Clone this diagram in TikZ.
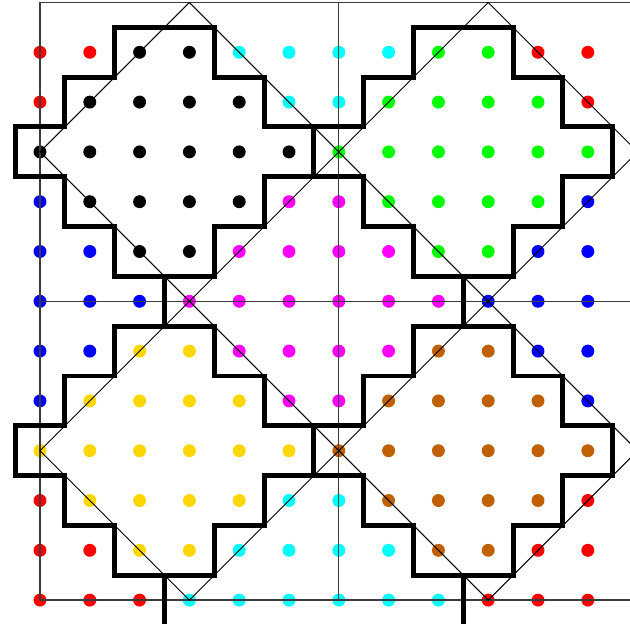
\documentclass[tikz,border=0pt]{standalone}
\definecolor{cR}{RGB}{255,0,0}
\definecolor{cK}{RGB}{0,0,0}
\definecolor{cC}{RGB}{0,255,255}
\definecolor{cG}{RGB}{0,255,0}
\definecolor{cB}{RGB}{0,0,255}
\definecolor{cM}{RGB}{255,0,255}
\definecolor{cY}{RGB}{255,215,0}
\definecolor{cO}{RGB}{192,96,0}
\definecolor{framegray}{RGB}{60,60,60}
\tikzset{
  framestyle/.style={draw=framegray,line width=0.75pt},
  diagstyle/.style={draw=black,line width=0.55pt},
  wallstyle/.style={draw=black,line width=0.1cm,line join=miter},
}
\begin{document}
\begin{tikzpicture}[x=1cm,y=1cm]
\useasboundingbox (-0.803,-0.54) rectangle (11.847,12.05);
% dots
\foreach \row [count=\r] in {
 {R,R,K,K,C,C,C,C,G,G,R,R},
 {R,K,K,K,K,C,C,G,G,G,G,R},
 {K,K,K,K,K,K,G,G,G,G,G,G},
 {B,K,K,K,K,M,M,G,G,G,G,B},
 {B,B,K,K,M,M,M,M,G,G,B,B},
 {B,B,B,M,M,M,M,M,M,B,B,B},
 {B,B,Y,Y,M,M,M,M,O,O,B,B},
 {B,Y,Y,Y,Y,M,M,O,O,O,O,B},
 {Y,Y,Y,Y,Y,Y,O,O,O,O,O,O},
 {R,Y,Y,Y,Y,C,C,O,O,O,O,R},
 {R,R,Y,Y,C,C,C,C,O,O,R,R},
 {R,R,R,C,C,C,C,C,C,R,R,R}}{
  \foreach \c [count=\i] in \row {
    \fill[c\c] ({\i-1},{12-\r}) circle (0.13);
  }
}
% frame lines
\coordinate (f00) at (0,0);
\coordinate (f012) at (0,12);
\coordinate (f120) at (12,0);
\coordinate (f1212) at (12,12);
\coordinate (f60) at (6,0);
\coordinate (f612) at (6,12);
\coordinate (f06) at (0,6);
\coordinate (f126) at (12,6);
\draw[framestyle] (f00) -- (f012);
\draw[framestyle] (f60) -- (f612);
\draw[framestyle] (f00) -- (f120);
\draw[framestyle] (f06) -- (f126);
\draw[framestyle] (f012) -- (f1212);
% diamonds
\foreach \cx/\cy in {3/9,9/9,3/3,9/3}{
  \draw[diagstyle] (\cx,\cy+3) -- (\cx+3,\cy) -- (\cx,\cy-3) -- (\cx-3,\cy) -- cycle;
}
% staircase walls
\foreach \cx/\cy in {2.5/9,8.5/9,2.5/3,8.5/3}{
  \begin{scope}[shift={(\cx,\cy)}]
    \draw[wallstyle] (-1,2.5) -- (1,2.5) -- (1,1.5) -- (2,1.5) -- (2,0.5) -- (3,0.5)
      -- (3,-0.5) -- (2,-0.5) -- (2,-1.5) -- (1,-1.5) -- (1,-2.5) -- (-1,-2.5)
      -- (-1,-1.5) -- (-2,-1.5) -- (-2,-0.5) -- (-3,-0.5) -- (-3,0.5) -- (-2,0.5)
      -- (-2,1.5) -- (-1,1.5) -- cycle;
  \end{scope}
}
% connectors
\coordinate (a1) at (2.5,6.5);
\coordinate (a2) at (2.5,5.5);
\coordinate (b1) at (8.5,6.5);
\coordinate (b2) at (8.5,5.5);
\coordinate (c1) at (2.5,0.5);
\coordinate (c2) at (2.5,-0.47);
\coordinate (d1) at (8.5,0.5);
\coordinate (d2) at (8.5,-0.47);
\draw[wallstyle] (a1) -- (a2);
\draw[wallstyle] (b1) -- (b2);
\draw[wallstyle] (c1) -- (c2);
\draw[wallstyle] (d1) -- (d2);
\end{tikzpicture}
\end{document}
